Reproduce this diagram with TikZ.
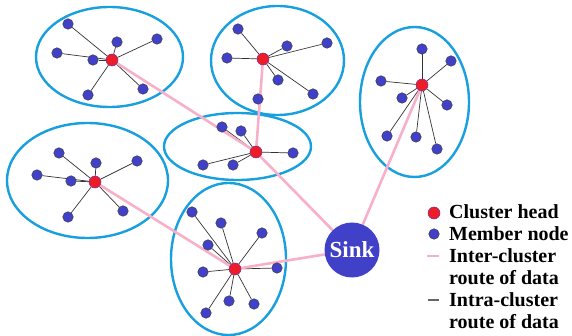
\documentclass[tikz,border=0pt]{standalone}
\usepackage{fontspec}
\setmainfont{Liberation Serif}
\usetikzlibrary{backgrounds}
\definecolor{ellblue}{RGB}{24,160,222}
\definecolor{memblue}{RGB}{64,64,200}
\definecolor{headred}{RGB}{236,28,40}
\definecolor{routepink}{RGB}{248,176,200}
\begin{document}
\begin{tikzpicture}[x=1pt,y=-1pt,
  member/.style={circle,fill=memblue,draw=black!75,line width=0.5pt,minimum size=10.5pt,inner sep=0pt},
  head/.style={circle,fill=headred,draw=memblue!70!red,line width=0.5pt,minimum size=12pt,inner sep=0pt},
  cluster/.style={draw=ellblue,line width=2.4pt},
  inter/.style={draw=routepink,line width=2.6pt},
  intra/.style={draw=black!80,line width=0.7pt},
  legtext/.style={anchor=base west,inner sep=0pt,font=\fontsize{20}{22}\selectfont\bfseries}]
\useasboundingbox (0,0) rectangle (572,336);
% cluster heads
\node[head] (hd1) at (112,60) {};
\node[head] (hd2) at (263,59) {};
\node[head] (hd3) at (422,85) {};
\node[head] (hd4) at (95,182) {};
\node[head] (hd5) at (256,152) {};
\node[head] (hd6) at (235,269) {};
% members
\foreach \n/\x/\y in {a/68/24,b/117/42,c/157/39,d/57/53,e/93/60,f/143/89,g/88/95}
  \node[member] (m1\n) at (\x,\y) {};
\foreach \n/\x/\y in {a/238/29,b/287/46,c/327/43,d/227/58,e/278/80,f/313/94,g/258/99}
  \node[member] (m2\n) at (\x,\y) {};
\foreach \n/\x/\y in {a/422/49,b/451/61,c/381/81,d/402/98,e/447/105,f/387/136,g/416/137,h/437/149}
  \node[member] (m3\n) at (\x,\y) {};
\foreach \n/\x/\y in {a/59/153,b/96/163,c/137/161,d/37/175,e/71/181,f/68/217,g/123/211}
  \node[member] (m4\n) at (\x,\y) {};
\foreach \n/\x/\y in {a/222/127,b/241/131,c/293/153,d/203/165,e/233/165}
  \node[member] (m5\n) at (\x,\y) {};
\foreach \n/\x/\y in {a/192/212,b/221/223,c/262/233,d/208/245,e/203/272,f/277/268,g/229/301,h/254/304,i/206/313}
  \node[member] (m6\n) at (\x,\y) {};
% sink
\node[circle,fill=memblue,minimum size=55pt,inner sep=0pt,text=white,
  font=\fontsize{23}{24}\selectfont\bfseries] (sink) at (352,250) {Sink};
% legend
\node[head] (lh) at (434,213) {};
\node[member] (lm) at (434,234) {};
\node[legtext] (t1) at (449,219) {Cluster head};
\node[legtext] (t2) at (449,240.8) {Member node};
\node[legtext] (t3) at (449,262.6) {Inter-cluster};
\node[legtext] (t4) at (449,284.4) {route of data};
\node[legtext] (t5) at (449,306.2) {Intra-cluster};
\node[legtext] (t6) at (449,328) {route of data};
\coordinate (p1) at (427,256);
\coordinate (p2) at (439,256);
\coordinate (q1) at (428,300);
\coordinate (q2) at (439,300);
\begin{pgfonlayer}{background}
  \draw[cluster] (109.5,57) ellipse [x radius=73.5,y radius=50];
  \draw[cluster] (277.5,60.5) ellipse [x radius=66.5,y radius=54.5];
  \draw[cluster] (414.5,102) ellipse [x radius=54.5,y radius=75];
  \draw[cluster] (87.5,180.5) ellipse [x radius=80.5,y radius=57.5];
  \draw[cluster] (237.5,146.5) ellipse [x radius=73.5,y radius=33.5];
  \draw[cluster] (228.5,259) ellipse [x radius=57.5,y radius=76];
  \foreach \n in {a,...,g} \draw[intra] (hd1) -- (m1\n);
  \foreach \n in {a,...,f} \draw[intra] (hd2) -- (m2\n);
  \foreach \n in {a,...,h} \draw[intra] (hd3) -- (m3\n);
  \foreach \n in {a,...,g} \draw[intra] (hd4) -- (m4\n);
  \foreach \n in {a,...,e} \draw[intra] (hd5) -- (m5\n);
  \foreach \n in {a,...,i} \draw[intra] (hd6) -- (m6\n);
  \draw[inter] (hd1) -- (hd5);
  \draw[inter] (hd2) -- (hd5);
  \draw[inter] (hd5) -- (sink);
  \draw[inter] (hd3) -- (sink);
  \draw[inter] (hd4) -- (hd6);
  \draw[inter] (hd6) -- (sink);
  \draw[draw=routepink,line width=1.6pt] (p1) -- (p2);
  \draw[draw=black!60,line width=1.2pt] (q1) -- (q2);
\end{pgfonlayer}
\end{tikzpicture}
\end{document}
